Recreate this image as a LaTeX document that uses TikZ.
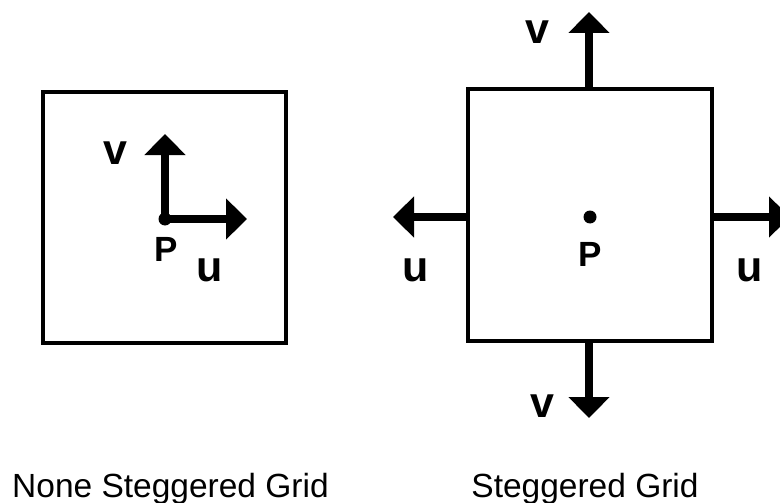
\documentclass[tikz,border=0pt]{standalone}
\usepackage{fontspec}
\setmainfont{Liberation Sans}
\usetikzlibrary{arrows.meta}

\begin{document}
\begin{tikzpicture}[
  x=1pt, y=-1pt,
  cell/.style={rectangle, draw, line width=3.5pt, inner sep=0pt,
               minimum width=244pt, minimum height=252pt},
  vec/.style={-{Triangle[length=21pt, width=40pt]}, line width=7.5pt},
  dot/.style={circle, fill, inner sep=0pt, minimum size=13pt},
  lbl/.style={inner sep=0pt, font=\fontsize{43}{43}\selectfont\bfseries},
  ptlbl/.style={inner sep=0pt, font=\fontsize{35}{35}\selectfont\bfseries},
  caption/.style={inner sep=0pt, anchor=base, font=\fontsize{33.5}{33.5}\selectfont}
]
\useasboundingbox (0,0) rectangle (780,503);
% non staggered cell
\node[cell, minimum width=243pt, minimum height=251pt] (ncell) at (164.5,217.5) {};
\node[dot] (np) at (165,219) {};
\coordinate (nv) at (165,134);
\coordinate (nu) at (247,219);
\draw[vec] (np.center) -- (nv);
\draw[vec] (np.center) -- (nu);
\node[lbl] (nvl) at (115,153) {v};
\node[ptlbl] (npl) at (166,249) {P};
\node[lbl] (nul) at (210,270) {u};
% staggered cell
\node[cell] (scell) at (590,215) {};
\node[dot] (sp) at (590,217) {};
\coordinate (sv1) at (589,12);
\coordinate (sv2) at (589,418);
\coordinate (su1) at (393,217);
\coordinate (su2) at (790,217);
\draw[vec] (scell.north -| sv1) -- (sv1);
\draw[vec] (scell.south -| sv2) -- (sv2);
\draw[vec] (scell.west |- su1) -- (su1);
\draw[vec] (scell.east |- su2) -- (su2);
\node[lbl] (sv1l) at (537,32) {v};
\node[lbl] (sv2l) at (542.5,406) {v};
\node[lbl] (su1l) at (415.5,270) {u};
\node[lbl] (su2l) at (750,270) {u};
\node[ptlbl] (spl) at (590,254.5) {P};
% captions
\node[caption] (ncap) at (170.5,497) {None Steggered Grid};
\node[caption] (scap) at (585,497) {Steggered Grid};
\end{tikzpicture}
\end{document}
